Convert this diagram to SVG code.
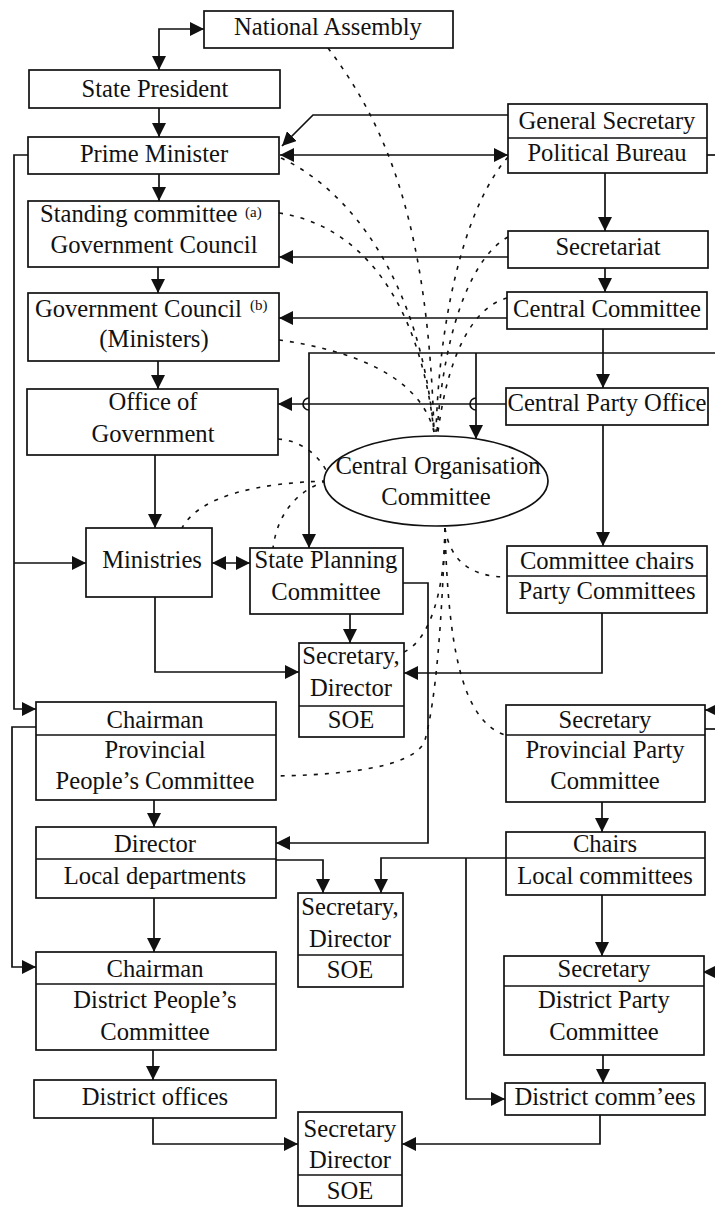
<svg xmlns="http://www.w3.org/2000/svg" width="715" height="1207" viewBox="0 0 715 1207">
  <defs>
    <marker id="ah" viewBox="0 0 14 14" refX="14" refY="7" markerWidth="14" markerHeight="14" markerUnits="userSpaceOnUse" orient="auto-start-reverse">
      <path d="M0,0 L14,7 L0,14 z" fill="#111"/>
    </marker>
    <style>
      .box { fill: #fff; stroke: #111; stroke-width: 1.7; }
      .div { stroke: #111; stroke-width: 1.7; fill: none; }
      .t { font-family: "Liberation Serif", "Times New Roman", serif; font-size: 24.6px; fill: #111; text-anchor: middle; }
      .ts { font-family: "Liberation Serif", "Times New Roman", serif; font-size: 24.6px; fill: #111; }
      .sup { font-family: "Liberation Serif", "Times New Roman", serif; font-size: 15px; fill: #111; }
      .ln { fill: none; stroke: #111; stroke-width: 1.7; }
      .arr { fill: none; stroke: #111; stroke-width: 1.7; marker-end: url(#ah); }
      .arr2 { fill: none; stroke: #111; stroke-width: 1.7; marker-start: url(#ah); marker-end: url(#ah); }
      .dash { fill: none; stroke: #111; stroke-width: 1.6; stroke-dasharray: 4 7; }
    </style>
  </defs>
  <rect width="715" height="1207" fill="#fff"/>

  <!-- connectors -->
  <g id="connectors">
    <!-- dotted influence lines of the organisation committee -->
    <path class="dash" d="M328,48 C390,130 428,230 434,432"/>
    <path class="dash" d="M281,158 C350,190 420,280 434,432"/>
    <path class="dash" d="M279,213 C360,225 420,300 434,432"/>
    <path class="dash" d="M279,340 C350,350 420,375 434,432"/>
    <path class="dash" d="M508,157 C470,200 440,300 436,432"/>
    <path class="dash" d="M508,237 C475,255 445,320 437,432"/>
    <path class="dash" d="M507,298 C480,305 450,340 438,432"/>
    <path class="dash" d="M278,439 C300,440 318,455 326,470"/>
    <path class="dash" d="M326,481 C260,483 200,495 182,528"/>
    <path class="dash" d="M326,481 C300,490 278,510 273,548"/>
    <path class="dash" d="M445,528 C450,560 470,577 507,577"/>
    <path class="dash" d="M445,528 C448,640 460,720 505,735"/>
    <path class="dash" d="M445,528 C445,590 430,640 404,652"/>
    <path class="dash" d="M445,528 C442,620 436,700 425,740 C415,770 330,775 276,776"/>

    <!-- state side -->
    <path class="arr2" d="M159,70 V29 H204"/>
    <path class="arr" d="M159,108 V137"/>
    <path class="arr" d="M159,174 V201"/>
    <path class="arr" d="M158,267 V293"/>
    <path class="arr" d="M158,361 V389"/>
    <path class="arr" d="M155,455 V528"/>
    <path class="arr" d="M508,115 H313 L282,146"/>
    <path class="arr2" d="M280,155 H508"/>
    <path class="ln" d="M707,155 H715"/>

    <!-- party side -->
    <path class="arr" d="M605,173 V231"/>
    <path class="arr" d="M508,257 H279"/>
    <path class="arr" d="M605,268 V292"/>
    <path class="arr" d="M507,318 H279"/>
    <path class="arr" d="M603,329 V388"/>
    <path class="arr" d="M715,353 H309 V548"/>
    <path class="arr" d="M476,353 V439"/>
    <path class="arr" d="M506,404 H278"/>
    <path class="ln" d="M309,398 A6,6 0 0 0 309,410"/>
    <path class="ln" d="M476,398 A6,6 0 0 0 476,410"/>
    <path class="arr" d="M603,425 V546"/>

    <!-- left bus -->
    <path class="arr" d="M28,155 H14 V709 H36"/>
    <path class="arr" d="M14,563 H86"/>
    <path class="arr2" d="M212,563 H250"/>
    <path class="arr" d="M155,597 V672 H299"/>
    <path class="arr" d="M350,614 V643"/>
    <path class="arr" d="M602,613 V673 H404"/>
    <path class="arr" d="M403,583 H428 V843 H276"/>

    <!-- provincial level -->
    <path class="arr" d="M154,800 V827"/>
    <path class="arr" d="M36,727 H12 V967 H36"/>
    <path class="arr" d="M716,710 H705"/>
    <path class="ln" d="M705,729 H715"/>
    <path class="arr" d="M602,802 V832"/>
    <path class="arr" d="M276,860 H323 V893"/>
    <path class="arr" d="M506,858 H381 V893"/>
    <path class="arr" d="M466,858 V1099 H505"/>
    <path class="arr" d="M602,895 V956"/>
    <path class="arr" d="M716,972 H703"/>

    <!-- district level -->
    <path class="arr" d="M154,898 V952"/>
    <path class="arr" d="M153,1050 V1080"/>
    <path class="arr" d="M603,1055 V1083"/>
    <path class="arr" d="M153,1118 V1144 H298"/>
    <path class="arr" d="M600,1115 V1144 H402"/>
  </g>

  <!-- nodes -->
  <g id="national-assembly">
    <rect class="box" x="204" y="11" width="249" height="37"/>
    <text class="t" x="328" y="35">National Assembly</text>
  </g>
  <g id="state-president">
    <rect class="box" x="29" y="70" width="251" height="38"/>
    <text class="t" x="155" y="97">State President</text>
  </g>
  <g id="prime-minister">
    <rect class="box" x="28" y="137" width="251" height="37"/>
    <text class="t" x="154" y="162">Prime Minister</text>
  </g>
  <g id="political-bureau">
    <rect class="box" x="508" y="104" width="199" height="69"/>
    <path class="div" d="M508,138 H707"/>
    <text class="t" x="607" y="129">General Secretary</text>
    <text class="t" x="607" y="161">Political Bureau</text>
  </g>
  <g id="standing-committee">
    <rect class="box" x="28" y="201" width="251" height="66"/>
    <text class="ts" x="40" y="222">Standing committee</text>
    <text class="sup" x="245" y="217">(a)</text>
    <text class="t" x="154" y="253">Government Council</text>
  </g>
  <g id="government-council">
    <rect class="box" x="28" y="293" width="251" height="68"/>
    <text class="ts" x="35" y="317">Government Council</text>
    <text class="sup" x="250" y="310">(b)</text>
    <text class="t" x="154" y="347">(Ministers)</text>
  </g>
  <g id="office-of-government">
    <rect class="box" x="27" y="389" width="251" height="66"/>
    <text class="t" x="153" y="410">Office of</text>
    <text class="t" x="153" y="442">Government</text>
  </g>
  <g id="secretariat">
    <rect class="box" x="508" y="231" width="200" height="37"/>
    <text class="t" x="608" y="255">Secretariat</text>
  </g>
  <g id="central-committee">
    <rect class="box" x="507" y="292" width="200" height="37"/>
    <text class="t" x="607" y="317">Central Committee</text>
  </g>
  <g id="central-party-office">
    <rect class="box" x="506" y="388" width="202" height="37"/>
    <text class="t" x="607" y="411">Central Party Office</text>
  </g>
  <g id="central-organisation-committee">
    <ellipse class="box" cx="436" cy="481" rx="112" ry="45"/>
    <text class="t" x="438" y="474">Central Organisation</text>
    <text class="t" x="436" y="505">Committee</text>
  </g>
  <g id="ministries">
    <rect class="box" x="86" y="528" width="126" height="69"/>
    <text class="t" x="152" y="568">Ministries</text>
  </g>
  <g id="state-planning-committee">
    <rect class="box" x="250" y="548" width="153" height="66"/>
    <text class="t" x="326" y="568">State Planning</text>
    <text class="t" x="326" y="600">Committee</text>
  </g>
  <g id="party-committees">
    <rect class="box" x="507" y="546" width="200" height="67"/>
    <path class="div" d="M507,576 H707"/>
    <text class="t" x="607" y="569">Committee chairs</text>
    <text class="t" x="607" y="599">Party Committees</text>
  </g>
  <g id="soe-central">
    <rect class="box" x="299" y="643" width="105" height="94"/>
    <path class="div" d="M299,706 H404"/>
    <text class="t" x="351" y="664">Secretary,</text>
    <text class="t" x="351" y="696">Director</text>
    <text class="t" x="351" y="728">SOE</text>
  </g>
  <g id="provincial-peoples-committee">
    <rect class="box" x="36" y="702" width="240" height="98"/>
    <path class="div" d="M36,735 H276"/>
    <text class="t" x="155" y="728">Chairman</text>
    <text class="t" x="155" y="758">Provincial</text>
    <text class="t" x="155" y="789">People’s Committee</text>
  </g>
  <g id="provincial-party-committee">
    <rect class="box" x="506" y="705" width="199" height="97"/>
    <path class="div" d="M506,735 H705"/>
    <text class="t" x="605" y="728">Secretary</text>
    <text class="t" x="605" y="758">Provincial Party</text>
    <text class="t" x="605" y="789">Committee</text>
  </g>
  <g id="local-departments">
    <rect class="box" x="36" y="827" width="240" height="71"/>
    <path class="div" d="M36,859 H276"/>
    <text class="t" x="155" y="852">Director</text>
    <text class="t" x="155" y="884">Local departments</text>
  </g>
  <g id="soe-provincial">
    <rect class="box" x="298" y="893" width="105" height="94"/>
    <path class="div" d="M298,955 H403"/>
    <text class="t" x="350" y="915">Secretary,</text>
    <text class="t" x="350" y="947">Director</text>
    <text class="t" x="350" y="978">SOE</text>
  </g>
  <g id="local-committees">
    <rect class="box" x="506" y="832" width="199" height="63"/>
    <path class="div" d="M506,858 H705"/>
    <text class="t" x="605" y="852">Chairs</text>
    <text class="t" x="605" y="884">Local committees</text>
  </g>
  <g id="district-peoples-committee">
    <rect class="box" x="36" y="952" width="240" height="98"/>
    <path class="div" d="M36,984 H276"/>
    <text class="t" x="155" y="977">Chairman</text>
    <text class="t" x="155" y="1008">District People’s</text>
    <text class="t" x="155" y="1040">Committee</text>
  </g>
  <g id="district-party-committee">
    <rect class="box" x="504" y="956" width="200" height="99"/>
    <path class="div" d="M504,986 H704"/>
    <text class="t" x="604" y="977">Secretary</text>
    <text class="t" x="604" y="1008">District Party</text>
    <text class="t" x="604" y="1040">Committee</text>
  </g>
  <g id="district-offices">
    <rect class="box" x="34" y="1080" width="242" height="38"/>
    <text class="t" x="155" y="1105">District offices</text>
  </g>
  <g id="district-committees">
    <rect class="box" x="505" y="1083" width="200" height="32"/>
    <text class="t" x="605" y="1105">District comm’ees</text>
  </g>
  <g id="soe-district">
    <rect class="box" x="298" y="1112" width="104" height="94"/>
    <path class="div" d="M298,1175 H402"/>
    <text class="t" x="350" y="1137">Secretary</text>
    <text class="t" x="350" y="1168">Director</text>
    <text class="t" x="350" y="1199">SOE</text>
  </g>
</svg>
